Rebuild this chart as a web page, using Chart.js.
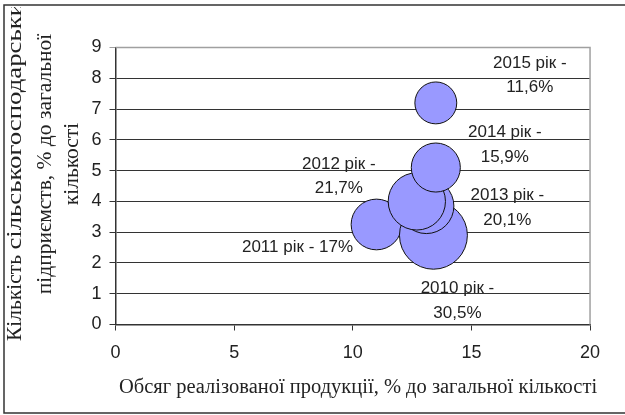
<!DOCTYPE html>
<html>
<head>
<meta charset="utf-8">
<script src="https://cdn.jsdelivr.net/npm/chart.js@4.4.0/dist/chart.umd.min.js"></script>
<style>
  html, body { margin: 0; padding: 0; background: #fff; }
  #wrap { width: 625px; height: 415px; position: relative; }
</style>
</head>
<body>
<div id="wrap"><canvas id="c" width="625" height="415"></canvas></div>
<script>
// ---- data ----
const years = [2010, 2011, 2012, 2013, 2014, 2015];
const salesShare = [13.4, 11.0, 12.7, 13.1, 13.5, 13.5];   // x: обсяг реалізованої продукції, %
const farmsShare = [2.9, 3.25, 4.0, 3.85, 5.1, 7.2];      // y: кількість підприємств, %
const bubbleShare = [30.5, 17, 21.7, 20.1, 15.9, 11.6];   // bubble size / label value, %
const drawOrder = [2011, 2010, 2013, 2012, 2014, 2015];   // painting order (later = on top)
const xTickValues = [0, 5, 10, 15, 20];
const yTickValues = [0, 1, 2, 3, 4, 5, 6, 7, 8, 9];
const xTitle = 'Обсяг реалізованої продукції, % до загальної кількості';
const yTitleLine1 = ['Кількість ', 'сільськогосподарськи'];
const yTitleLines = ['підприємств, % до загальної', 'кількості'];

// label placement relative to bubble centre (px)
const labelOffsets = {
  2010: { dx: 24, dy: [53, 78], oneLine: false },
  2011: { dx: -79, dy: [23], oneLine: true },
  2012: { dx: -78, dy: [-37, -13], oneLine: false },
  2013: { dx: 81, dy: [-11, 14], oneLine: false },
  2014: { dx: 69, dy: [-35, -10], oneLine: false },
  2015: { dx: 94, dy: [-40, -16], oneLine: false }
};

const fmt = v => String(v).replace('.', ',') + '%';
const radiusOf = v => 6.15 * Math.sqrt(v);

const points = drawOrder.map(y => {
  const i = years.indexOf(y);
  return { x: salesShare[i], y: farmsShare[i], r: radiusOf(bubbleShare[i]), year: y, share: bubbleShare[i] };
});

const decorPlugin = {
  id: 'decor',
  beforeDraw(chart) {
    const ctx = chart.ctx;
    ctx.save();
    ctx.fillStyle = '#fff';
    ctx.fillRect(0, 0, chart.width, chart.height);
    // outer frame (left, top, bottom)
    ctx.strokeStyle = '#333';
    ctx.lineWidth = 1.5;
    ctx.beginPath();
    ctx.moveTo(625, 5); ctx.lineTo(4, 5); ctx.lineTo(4, 413); ctx.lineTo(625, 413);
    ctx.stroke();
    ctx.restore();
  },
  afterDraw(chart) {
    const ctx = chart.ctx;
    const a = chart.chartArea;
    ctx.save();
    // plot area top / right border
    ctx.strokeStyle = '#a0a0a0';
    ctx.lineWidth = 1.5;
    ctx.beginPath();
    ctx.moveTo(a.left, a.top); ctx.lineTo(a.right, a.top); ctx.lineTo(a.right, a.bottom);
    ctx.stroke();

    // bubble labels
    const meta = chart.getDatasetMeta(0);
    ctx.fillStyle = '#222';
    ctx.font = '17px "Liberation Sans", Arial, sans-serif';
    ctx.textAlign = 'center';
    ctx.textBaseline = 'middle';
    meta.data.forEach((el, idx) => {
      const p = points[idx];
      const o = labelOffsets[p.year];
      const lines = o.oneLine ? [p.year + ' рік - ' + fmt(p.share)] : [p.year + ' рік -', fmt(p.share)];
      lines.forEach((t, k) => ctx.fillText(t, el.x + o.dx, el.y + o.dy[k]));
    });

    // axis titles
    ctx.font = '20.5px "Liberation Serif", "Times New Roman", serif';
    ctx.fillStyle = '#222';
    ctx.fillText(xTitle, 358, 388);

    ctx.beginPath();
    ctx.rect(5, 7, 620, 405);
    ctx.clip();
    ctx.rotate(-Math.PI / 2);
    ctx.font = '21.5px "Liberation Serif", "Times New Roman", serif';
    // first line: starts at the bottom and runs past the top edge (clipped)
    ctx.textAlign = 'left';
    const startY = 341;
    const w0 = ctx.measureText(yTitleLine1[0]).width;
    ctx.fillText(yTitleLine1[0], -startY, 15);
    const w1 = ctx.measureText(yTitleLine1[1]).width;
    const target = startY - w0 - 2;
    const k1 = Math.max(1, target / w1);
    ctx.save();
    ctx.translate(-startY + w0, 15);
    ctx.scale(k1, 1);
    ctx.fillText(yTitleLine1[1], 0, 0);
    ctx.restore();
    ctx.textAlign = 'center';
    const xs = [45, 72];
    yTitleLines.forEach((t, k) => ctx.fillText(t, -164, xs[k]));
    ctx.restore();
  }
};

new Chart(document.getElementById('c'), {
  type: 'bubble',
  data: {
    datasets: [{
      data: points,
      backgroundColor: '#9999FF',
      borderColor: '#111',
      borderWidth: 1,
      hoverRadius: 0
    }]
  },
  options: {
    responsive: false,
    animation: false,
    events: [],
    layout: { padding: { left: 0, right: 31.5, top: 47.5, bottom: 0 } },
    plugins: { legend: { display: false }, tooltip: { enabled: false } },
    scales: {
      x: {
        type: 'linear',
        min: 0, max: 20,
        afterBuildTicks: s => { s.ticks = xTickValues.map(v => ({ value: v })); },
        afterFit: s => { s.height = 415 - 324.5; },
        ticks: { color: '#222', padding: 12, font: { family: '"Liberation Sans", Arial, sans-serif', size: 18 }, maxRotation: 0 },
        grid: { drawOnChartArea: false, drawTicks: true, tickLength: 6, color: '#333', lineWidth: 1 },
        border: { color: '#333', width: 1.5 },
        title: { display: false }
      },
      y: {
        type: 'linear',
        min: 0, max: 9,
        afterBuildTicks: s => { s.ticks = yTickValues.map(v => ({ value: v })); },
        afterFit: s => { s.width = 115.5; },
        ticks: { color: '#222', padding: 8, font: { family: '"Liberation Sans", Arial, sans-serif', size: 18 } },
        grid: {
          tickLength: 6,
          color: c => (c.tick && c.tick.value === 9) ? '#a0a0a0' : '#333',
          lineWidth: 1
        },
        border: { color: '#333', width: 1.5 },
        title: { display: false }
      }
    }
  },
  plugins: [decorPlugin]
});
</script>
</body>
</html>
